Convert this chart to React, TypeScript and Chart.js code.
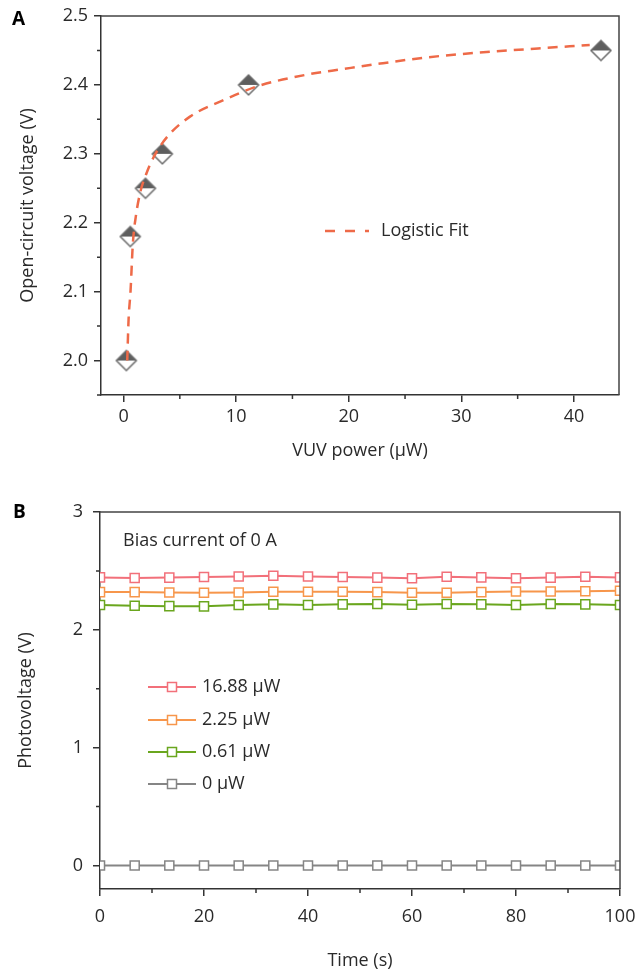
import React, { useEffect, useRef } from 'react';
import { Chart, registerables } from 'chart.js';
Chart.register(...registerables);

// ---------- Panel A data ----------
const powerA = [0.25, 0.6, 1.95, 3.45, 11.1, 42.4];
const vocA = [2.0, 2.18, 2.25, 2.3, 2.4, 2.45];
const fitX = [0.33, 0.45, 0.62, 0.83, 1.1, 1.5, 2.0, 2.7, 3.9, 5.9, 8.9, 11.9, 16.3, 19.5, 22.8, 27, 31.6, 36, 41.4];
const fitY = [2.0, 2.06, 2.1, 2.17, 2.21, 2.245, 2.27, 2.296, 2.325, 2.354, 2.378, 2.398, 2.415, 2.423, 2.431, 2.44, 2.447, 2.452, 2.458];
const xTicksA = [0, 10, 20, 30, 40];
const xMinorA = [5, 15, 25, 35];
const yTicksA = [2.0, 2.1, 2.2, 2.3, 2.4, 2.5];
const yMinorA = [1.95, 2.05, 2.15, 2.25, 2.35, 2.45];

// ---------- Panel B data ----------
const timeB = [0, 6.67, 13.33, 20, 26.67, 33.33, 40, 46.67, 53.33, 60, 66.67, 73.33, 80, 86.67, 93.33, 100];
const v1688 = [2.445, 2.44, 2.443, 2.448, 2.453, 2.459, 2.453, 2.448, 2.443, 2.437, 2.451, 2.445, 2.437, 2.443, 2.451, 2.445];
const v225 = [2.32, 2.32, 2.317, 2.314, 2.317, 2.323, 2.323, 2.323, 2.32, 2.314, 2.314, 2.32, 2.326, 2.326, 2.328, 2.331];
const v061 = [2.21, 2.204, 2.201, 2.199, 2.21, 2.216, 2.21, 2.216, 2.219, 2.213, 2.219, 2.216, 2.21, 2.219, 2.216, 2.21];
const v0 = [0, 0, 0, 0, 0, 0, 0, 0, 0, 0, 0, 0, 0, 0, 0, 0];
const labelsB = ['16.88 μW', '2.25 μW', '0.61 μW', '0 μW'];
const colorsB = ['#F2707A', '#F7964B', '#6AA61E', '#858585'];
const xTicksB = [0, 20, 40, 60, 80, 100];
const xMinorB = [10, 30, 50, 70, 90];
const yTicksB = [0, 1, 2, 3];
const yMinorB = [0.5, 1.5, 2.5];

const FONT = '"Open Sans", Lato, sans-serif';
const FS = 18;
const AX = '#333333';
const TXT = '#2a2a2a';
const FIT = '#EE6A48';

function diamondImage(): HTMLCanvasElement {
  const c = document.createElement('canvas');
  c.width = 24; c.height = 24;
  const g = c.getContext('2d')!;
  const cx = 12, cy = 12, r = 10;
  g.fillStyle = '#ffffff';
  g.beginPath(); g.moveTo(cx - r, cy); g.lineTo(cx, cy - r); g.lineTo(cx + r, cy); g.lineTo(cx, cy + r); g.closePath(); g.fill();
  g.fillStyle = '#5e5e5e';
  g.beginPath(); g.moveTo(cx - r, cy); g.lineTo(cx, cy - r); g.lineTo(cx + r, cy); g.closePath(); g.fill();
  g.strokeStyle = '#6a6a6a'; g.lineWidth = 1.5;
  g.beginPath(); g.moveTo(cx - r, cy); g.lineTo(cx, cy - r); g.lineTo(cx + r, cy); g.lineTo(cx, cy + r); g.closePath(); g.stroke();
  return c;
}

function drawMinor(chart: any, xMinor: number[], yMinor: number[]) {
  const ctx = chart.ctx;
  const xs = chart.scales.x, ys = chart.scales.y;
  const a = chart.chartArea;
  ctx.save();
  ctx.strokeStyle = AX; ctx.lineWidth = 1.5;
  ctx.beginPath();
  xMinor.forEach((v) => { const p = xs.getPixelForValue(v); ctx.moveTo(p, a.bottom); ctx.lineTo(p, a.bottom + 4); });
  yMinor.forEach((v) => { const p = ys.getPixelForValue(v); ctx.moveTo(a.left, p); ctx.lineTo(a.left - 4, p); });
  ctx.stroke();
  ctx.strokeStyle = '#444'; ctx.lineWidth = 1.5;
  ctx.beginPath();
  ctx.moveTo(a.left, a.top); ctx.lineTo(a.right, a.top); ctx.lineTo(a.right, a.bottom);
  ctx.stroke();
  ctx.restore();
}

function PanelA() {
  const ref = useRef<HTMLCanvasElement>(null);
  useEffect(() => {
    const img = diamondImage();
    const deco = {
      id: 'decoA',
      afterDraw(chart: any) {
        drawMinor(chart, xMinorA, yMinorA);
        const ctx = chart.ctx;
        ctx.save();
        ctx.strokeStyle = FIT; ctx.lineWidth = 2.5; ctx.setLineDash([10, 10]);
        ctx.beginPath(); ctx.moveTo(325, 231); ctx.lineTo(369, 231); ctx.stroke();
        ctx.setLineDash([]);
        ctx.fillStyle = TXT; ctx.font = `${FS}px ${FONT}`; ctx.textBaseline = 'middle'; ctx.textAlign = 'left';
        ctx.fillText('Logistic Fit', 381, 231);
        ctx.font = `bold 19px ${FONT}`; ctx.fillStyle = '#000';
        ctx.fillText('A', 12, 20);
        ctx.restore();
      },
    };
    const chart = new Chart(ref.current!, {
      type: 'line',
      data: {
        datasets: [
          {
            label: 'Logistic Fit',
            data: fitX.map((x, i) => ({ x, y: fitY[i] })),
            borderColor: FIT, borderWidth: 2.5, borderDash: [10, 7],
            pointRadius: 0, cubicInterpolationMode: 'monotone', fill: false,
          },
          {
            label: 'Voc',
            data: powerA.map((x, i) => ({ x, y: vocA[i] })),
            showLine: false, pointStyle: img as any, pointRadius: 10,
          },
        ],
      },
      options: {
        responsive: false, animation: false,
        layout: { padding: { left: 0, top: 16, right: 17, bottom: 0 } },
        plugins: { legend: { display: false }, tooltip: { enabled: false } },
        scales: {
          x: {
            type: 'linear', min: -2, max: 44,
            afterFit: (s: any) => { s.height = 75; s.paddingRight = 0; s.paddingLeft = 0; },
            afterBuildTicks: (s: any) => { s.ticks = xTicksA.map((v) => ({ value: v })); },
            grid: { drawOnChartArea: false, drawTicks: true, tickLength: 7, color: AX, lineWidth: 1.5 },
            border: { display: true, color: AX, width: 1.5 },
            ticks: { color: TXT, font: { family: FONT, size: FS }, padding: 4, maxRotation: 0, callback: (v: any) => String(v) },
            title: { display: true, text: 'VUV power (μW)', color: TXT, font: { family: FONT, size: FS }, padding: { top: 0, bottom: 8 } },
          },
          y: {
            type: 'linear', min: 1.95, max: 2.5,
            afterFit: (s: any) => { s.width = 101; s.paddingTop = 0; s.paddingBottom = 0; },
            afterBuildTicks: (s: any) => { s.ticks = yTicksA.map((v) => ({ value: v })); },
            grid: { drawOnChartArea: false, drawTicks: true, tickLength: 7, color: AX, lineWidth: 1.5 },
            border: { display: true, color: AX, width: 1.5 },
            ticks: { color: TXT, font: { family: FONT, size: FS }, padding: 6, callback: (v: any) => Number(v).toFixed(1) },
            title: { display: true, text: 'Open-circuit voltage (V)', color: TXT, font: { family: FONT, size: FS }, padding: { top: 17, bottom: 0 } },
          },
        },
      },
      plugins: [deco],
    } as any);
    return () => chart.destroy();
  }, []);
  return <canvas ref={ref} width={636} height={470} style={{ position: 'absolute', left: 0, top: 0 }} />;
}

function PanelB() {
  const ref = useRef<HTMLCanvasElement>(null);
  useEffect(() => {
    const series = [v1688, v225, v061, v0];
    const deco = {
      id: 'decoB',
      afterDraw(chart: any) {
        drawMinor(chart, xMinorB, yMinorB);
        const ctx = chart.ctx;
        ctx.save();
        const rows = [217, 250, 282, 314];
        rows.forEach((y, i) => {
          ctx.strokeStyle = colorsB[i]; ctx.lineWidth = 2;
          ctx.beginPath(); ctx.moveTo(148, y); ctx.lineTo(196, y); ctx.stroke();
          ctx.fillStyle = '#fff'; ctx.lineWidth = 1.5;
          ctx.beginPath(); ctx.rect(167.5, y - 4.5, 9, 9); ctx.fill(); ctx.stroke();
          ctx.fillStyle = TXT; ctx.font = `${FS}px ${FONT}`; ctx.textBaseline = 'middle'; ctx.textAlign = 'left';
          ctx.fillText(labelsB[i], 202, y);
        });
        ctx.fillStyle = TXT; ctx.font = `${FS}px ${FONT}`; ctx.textBaseline = 'middle';
        ctx.fillText('Bias current of 0 A', 123, 71);
        ctx.font = `bold 19px ${FONT}`; ctx.fillStyle = '#000';
        ctx.fillText('B', 13, 43);
        ctx.restore();
      },
    };
    const chart = new Chart(ref.current!, {
      type: 'line',
      data: {
        datasets: series.map((s, i) => ({
          label: labelsB[i],
          data: timeB.map((x, j) => ({ x, y: s[j] })),
          borderColor: colorsB[i], borderWidth: 2,
          pointStyle: 'rect', pointRadius: 6.4, pointBorderWidth: 1.5,
          pointBackgroundColor: '#ffffff', pointBorderColor: colorsB[i],
          fill: false, tension: 0,
        })),
      },
      options: {
        responsive: false, animation: false,
        layout: { padding: { left: 0, top: 42, right: 16, bottom: 0 } },
        plugins: { legend: { display: false }, tooltip: { enabled: false } },
        scales: {
          x: {
            type: 'linear', min: 0, max: 100,
            afterFit: (s: any) => { s.height = 88; s.paddingRight = 0; s.paddingLeft = 0; },
            afterBuildTicks: (s: any) => { s.ticks = xTicksB.map((v) => ({ value: v })); },
            grid: { drawOnChartArea: false, drawTicks: true, tickLength: 7, color: AX, lineWidth: 1.5 },
            border: { display: true, color: AX, width: 1.5 },
            ticks: { color: TXT, font: { family: FONT, size: FS }, padding: 10, maxRotation: 0, callback: (v: any) => String(v) },
            title: { display: true, text: 'Time (s)', color: TXT, font: { family: FONT, size: FS }, padding: { top: 0, bottom: 5 } },
          },
          y: {
            type: 'linear', min: -0.2, max: 3,
            afterFit: (s: any) => { s.width = 100; s.paddingTop = 0; s.paddingBottom = 0; },
            afterBuildTicks: (s: any) => { s.ticks = yTicksB.map((v) => ({ value: v })); },
            grid: { drawOnChartArea: false, drawTicks: true, tickLength: 7, color: AX, lineWidth: 1.5 },
            border: { display: true, color: AX, width: 1.5 },
            ticks: { color: TXT, font: { family: FONT, size: FS }, padding: 10, callback: (v: any) => String(v) },
            title: { display: true, text: 'Photovoltage (V)', color: TXT, font: { family: FONT, size: FS }, padding: { top: 15, bottom: 0 } },
          },
        },
      },
      plugins: [deco],
    } as any);
    return () => chart.destroy();
  }, []);
  return <canvas ref={ref} width={636} height={507} style={{ position: 'absolute', left: 0, top: 470 }} />;
}

export default function App() {
  return (
    <div style={{ position: 'absolute', left: 0, top: 0, width: 636, height: 977, background: '#fff' }}>
      <PanelA />
      <PanelB />
    </div>
  );
}
